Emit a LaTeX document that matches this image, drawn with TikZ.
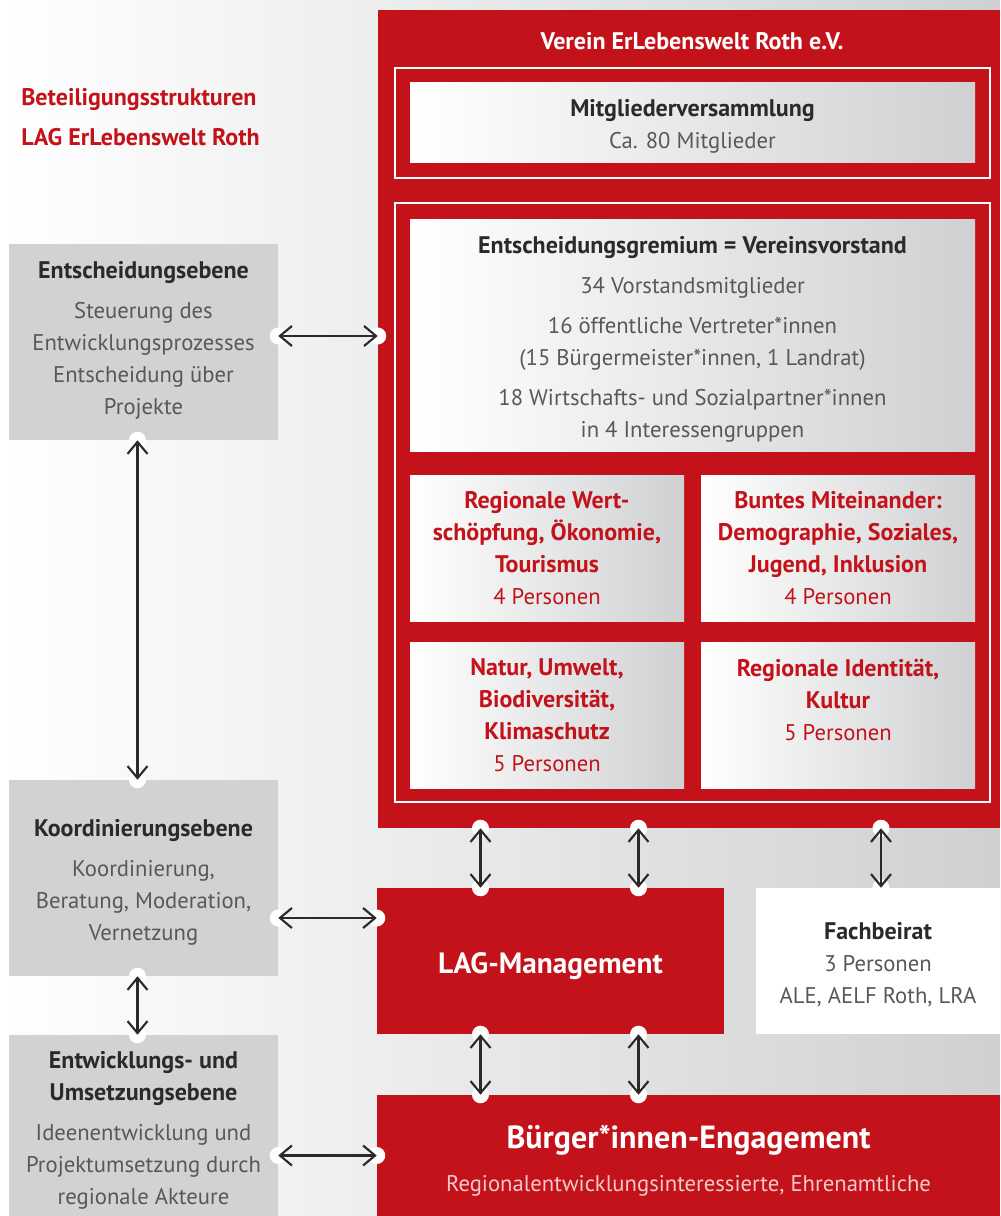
\documentclass[tikz,border=0pt]{standalone}
\usepackage{fontspec}
\setmainfont{PT Sans}
\usetikzlibrary{positioning,fit,calc,arrows.meta}

\definecolor{rot}{HTML}{C4121A}
\definecolor{grau}{HTML}{D1D2D4}
\definecolor{grauR}{HTML}{CFD0D2}
\definecolor{dunkel}{HTML}{2B2A29}
\definecolor{mittel}{HTML}{58585A}
\definecolor{hellrot}{HTML}{F3C9CB}

\newcommand{\kopf}[1]{{\fontsize{18}{24}\selectfont\bfseries\color{dunkel}#1}}
\newcommand{\rk}[1]{{\fontsize{18}{24}\selectfont\bfseries\color{rot}#1}}
\newcommand{\pers}[1]{{\color{rot}#1}}

\tikzset{
  feld/.style={inner sep=0pt},
  verlauf/.style={feld, left color=white, right color=grauR},
  ebene/.style={feld, fill=grau},
  rotbox/.style={feld, fill=rot},
  rahmen/.style={draw=white, line width=1.5pt, inner sep=0pt},
  txt/.style={inner sep=0pt, align=center, font=\fontsize{17}{24}\selectfont, text=mittel},
  pfeil/.style={{Straight Barb[length=9pt,width=15pt]}-{Straight Barb[length=9pt,width=15pt]}, line width=1.6pt, dunkel},
}

\begin{document}
\begin{tikzpicture}[x=0.75pt, y=-0.75pt]
    \useasboundingbox (0,0) rectangle (1000,1216);
    % Hintergrund
    \shade[left color=white, right color=grauR] (0,0) rectangle (1000,1216);

    % Titel links
    \node[anchor=west, inner sep=0pt, align=left, text=rot, font=\fontsize{18}{30}\selectfont\bfseries] (titel) at (21,117)
        {Beteiligungsstrukturen\\LAG ErLebenswelt Roth};

    % Verein
    \node[fill=rot, inner sep=0pt, fit={(378,10) (1000,828)}] (verein) {};
    \node[text=white, font=\fontsize{18}{24}\selectfont\bfseries] (vtitel) at (692,41) {Verein ErLebenswelt Roth e.V.};
    \node[rahmen, fit={(395,68) (990,178)}] (rahmen1) {};
    \node[rahmen, fit={(395,203) (990,802)}] (rahmen2) {};

    \node[verlauf, fit={(410,83) (975,163)}] (mv) {};
    \node[txt] (mvtxt) at ($(mv.center)+(0,3)$) {\kopf{Mitgliederversammlung}\\ Ca. 80 Mitglieder};
    \node[verlauf, fit={(410,220) (975,451)}] (gremium) {};
    \node[txt] (gremiumtxt) at ($(gremium.center)+(0,4)$) {\kopf{Entscheidungsgremium = Vereinsvorstand}\\[6pt]
        34 Vorstandsmitglieder\\[6pt]
        16 öffentliche Vertreter*innen\\ (15 Bürgermeister*innen, 1 Landrat)\\[6pt]
        18 Wirtschafts- und Sozialpartner*innen\\ in 4 Interessengruppen};

    % Interessengruppen
    \node[verlauf, fit={(410,475) (684,621)}] (ig1) {};
    \node[verlauf, fit={(701,475) (975,621)}] (ig2) {};
    \node[verlauf, fit={(410,642) (684,788)}] (ig3) {};
    \node[verlauf, fit={(701,642) (975,788)}] (ig4) {};
    \node[txt] (ig1txt) at (ig1.center) {\rk{Regionale Wert-}\\ \rk{schöpfung, Ökonomie,}\\ \rk{Tourismus}\\ \pers{4 Personen}};
    \node[txt] (ig2txt) at (ig2.center) {\rk{Buntes Miteinander:}\\ \rk{Demographie, Soziales,}\\ \rk{Jugend, Inklusion}\\ \pers{4 Personen}};
    \node[txt] (ig3txt) at (ig3.center) {\rk{Natur, Umwelt,}\\ \rk{Biodiversität,}\\ \rk{Klimaschutz}\\ \pers{5 Personen}};
    \node[txt] (ig4txt) at ($(ig4.center)+(0,-15)$) {\rk{Regionale Identität,}\\ \rk{Kultur}\\ \pers{5 Personen}};

    % Ebenen links
    \node[ebene, fit={(9,244) (278,440)}] (ebA) {};
    \node[ebene, fit={(9,780) (278,976)}] (ebB) {};
    \node[ebene, fit={(9,1035) (278,1216)}] (ebC) {};
    \node[txt] (ebAtxt) at ($(ebA.center)+(0,-2)$) {\kopf{Entscheidungsebene}\\[6pt]
        Steuerung des\\ Entwicklungsprozesses\\ Entscheidung über\\ Projekte};
    \node[txt] (ebBtxt) at ($(ebB.center)+(0,4)$) {\kopf{Koordinierungsebene}\\[6pt]
        Koordinierung,\\ Beratung, Moderation,\\ Vernetzung};
    \node[txt] (ebCtxt) at ($(ebC.center)+(0,5)$) {\kopf{Entwicklungs- und}\\ \kopf{Umsetzungsebene}\\[6pt]
        Ideenentwicklung und\\ Projektumsetzung durch\\ regionale Akteure};

    % untere Boxen
    \node[rotbox, fit={(377,888) (724,1034)}] (lag) {};
    \node[txt, text=white, font=\fontsize{22}{30}\selectfont\bfseries] (lagtxt) at ($(lag.center)+(0,5)$) {LAG-Management};
    \node[feld, fill=white, fit={(756,888) (1000,1034)}] (fach) {};
    \node[txt] (fachtxt) at ($(fach.center)+(0,4)$) {\kopf{Fachbeirat}\\ 3 Personen\\ ALE, AELF Roth, LRA};
    \node[rotbox, fit={(377,1095) (1000,1216)}] (buerger) {};
    \node[txt, text=hellrot] (buergertxt) at ($(buerger.center)+(0,5)$) {{\fontsize{24}{30}\selectfont\bfseries\color{white}Bürger*innen-Engagement}\\[8pt]
        Regionalentwicklungsinteressierte, Ehrenamtliche};

    % Endpunkte der Pfeile
    \coordinate (a1) at ($(ebA.east)+(0,-6)$);
    \coordinate (b1) at (verein.west |- a1);
    \coordinate (a2) at ($(ebB.east)+(0,40)$);
    \coordinate (b2) at (lag.west |- a2);
    \coordinate (a3) at (ebC.east |- buerger.west);
    \coordinate (b3) at (buerger.west);
    \coordinate (a4) at ($(ebA.south)+(-6,0)$);
    \coordinate (b4) at (ebB.north -| a4);
    \coordinate (a5) at ($(ebB.south)+(-6,0)$);
    \coordinate (b5) at (ebC.north -| a5);
    \coordinate (a6) at ($(lag.north)+(-70,0)$);
    \coordinate (b6) at (verein.south -| a6);
    \coordinate (a7) at ($(lag.north)+(88,0)$);
    \coordinate (b7) at (verein.south -| a7);
    \coordinate (a8) at ($(fach.north)+(3,0)$);
    \coordinate (b8) at (verein.south -| a8);
    \coordinate (a9) at ($(lag.south)+(-70,0)$);
    \coordinate (b9) at (buerger.north -| a9);
    \coordinate (a10) at ($(lag.south)+(88,0)$);
    \coordinate (b10) at (buerger.north -| a10);

    % Pfeile
    \foreach \i in {1,...,10} {
        \fill[white] (a\i) circle[radius=6.4pt] (b\i) circle[radius=6.4pt];
        \draw[pfeil] (a\i) -- (b\i);
    }
\end{tikzpicture}
\end{document}
